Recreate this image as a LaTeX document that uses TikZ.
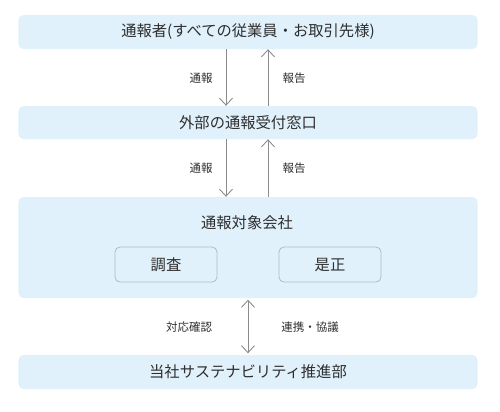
\documentclass[tikz,border=0pt]{standalone}
\usepackage{fontspec}
\newfontfamily\jp{Noto Sans CJK JP}
\usetikzlibrary{arrows.meta}
\definecolor{boxfill}{HTML}{E1F1FB}
\definecolor{txt}{HTML}{2E2E2E}
\definecolor{arrcol}{HTML}{8C8C8C}
\definecolor{subline}{HTML}{B2BAC0}
\tikzset{
  bigbox/.style={fill=boxfill, draw=none, rounded corners=5bp, minimum width=459bp, inner sep=0pt, text=txt, font=\jp\fontsize{15.3bp}{18bp}\selectfont},
  subbox/.style={fill=boxfill, draw=subline, line width=0.8bp, rounded corners=5bp, minimum width=102bp, minimum height=35bp, inner sep=0pt, text=txt, font=\jp\fontsize{15.3bp}{18bp}\selectfont},
  lbl/.style={text=txt, font=\jp\fontsize{11.5bp}{13bp}\selectfont, inner sep=0pt},
  arr/.style={draw=arrcol, line width=0.9bp, -{Straight Barb[length=7bp,width=13bp]}},
  darr/.style={draw=arrcol, line width=0.9bp, {Straight Barb[length=7bp,width=13bp]}-{Straight Barb[length=7bp,width=13bp]}}
}
\begin{document}
\begin{tikzpicture}[x=1bp,y=-1bp]
\useasboundingbox (0,0) rectangle (500,411);
\node[bigbox, minimum height=34bp] (b1) at (248,32) {通報者(すべての従業員・お取引先様)};
\node[bigbox, minimum height=33bp] (b2) at (248,122.5) {外部の通報受付窓口};
\node[bigbox, minimum height=101bp] (b3) at (248,247.5) {};
\node[text=txt, font=\jp\fontsize{15.3bp}{18bp}\selectfont, inner sep=0pt] (b3t) at (247,223) {通報対象会社};
\node[subbox] (s1) at (166,264.5) {調査};
\node[subbox] (s2) at (330,264.5) {是正};
\node[bigbox, minimum height=34bp] (b4) at (248,372) {当社サステナビリティ推進部};
\coordinate (cd) at (226,0);
\coordinate (cu) at (268,0);
\coordinate (cm) at (248,0);
\draw[arr] (b1.south -| cd) -- (b2.north -| cd);
\draw[arr] (b2.north -| cu) -- (b1.south -| cu);
\draw[arr] (b2.south -| cd) -- (b3.north -| cd);
\draw[arr] (b3.north -| cu) -- (b2.south -| cu);
\draw[darr] ([yshift=-1.5bp]b3.south -| cm) -- ([yshift=1.5bp]b4.north -| cm);
\node[lbl] (l1) at (201,78) {通報};
\node[lbl] (l2) at (294,78) {報告};
\node[lbl] (l3) at (201,168) {通報};
\node[lbl] (l4) at (294,168) {報告};
\node[lbl] (l5) at (189,327) {対応確認};
\node[lbl] (l6) at (310,327) {連携・協議};
\end{tikzpicture}
\end{document}
